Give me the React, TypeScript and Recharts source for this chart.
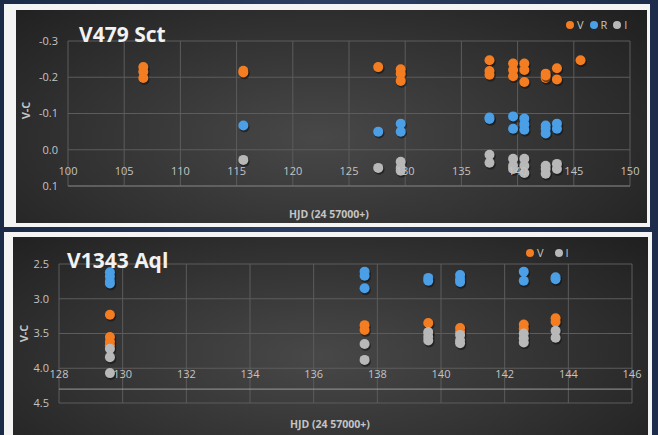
import React from 'react';
import { ScatterChart, Scatter, XAxis, YAxis, CartesianGrid, Legend, ReferenceLine } from 'recharts';

// V479 Sct
const sctDays = [100, 105, 110, 115, 120, 125, 130, 135, 140, 145, 150];
const sctTicks = [-0.3, -0.2, -0.1, 0.0, 0.1];
const sctVDay = [106.7, 106.7, 106.7, 115.6, 115.6, 127.6, 129.6, 129.6, 129.6, 137.5, 137.5, 137.5, 139.6, 139.6, 139.6, 140.6, 140.6, 140.6, 142.5, 142.5, 142.5, 143.5, 143.5, 145.6];
const sctVMag = [-0.228, -0.215, -0.198, -0.218, -0.213, -0.228, -0.222, -0.21, -0.19, -0.247, -0.217, -0.207, -0.238, -0.22, -0.203, -0.238, -0.22, -0.187, -0.21, -0.198, -0.205, -0.225, -0.194, -0.247];
const sctRDay = [115.6, 127.6, 129.6, 129.6, 137.5, 137.5, 139.6, 139.6, 140.6, 140.6, 140.6, 142.5, 142.5, 142.5, 143.5, 143.5];
const sctRMag = [-0.067, -0.05, -0.072, -0.05, -0.089, -0.085, -0.092, -0.058, -0.086, -0.07, -0.055, -0.067, -0.058, -0.045, -0.072, -0.058];
const sctIDay = [115.6, 127.6, 129.6, 129.6, 129.6, 137.5, 137.5, 139.6, 139.6, 139.6, 140.6, 140.6, 140.6, 142.5, 142.5, 142.5, 143.5, 143.5];
const sctIMag = [0.028, 0.05, 0.033, 0.05, 0.058, 0.014, 0.036, 0.025, 0.044, 0.053, 0.025, 0.044, 0.064, 0.044, 0.053, 0.066, 0.039, 0.053];

// V1343 Aql
const aqlDays = [128, 130, 132, 134, 136, 138, 140, 142, 144, 146];
const aqlTicks = [2.5, 3.0, 3.5, 4.0, 4.5];
const aqlAxisCross = 4.3;
const aqlVDay = [129.6, 129.6, 129.6, 129.6, 137.6, 137.6, 139.6, 139.6, 140.6, 140.6, 142.6, 142.6, 143.6, 143.6];
const aqlVMag = [3.23, 3.55, 3.62, 3.67, 3.38, 3.45, 3.35, 3.5, 3.42, 3.48, 3.37, 3.43, 3.28, 3.33];
const aqlBDay = [129.6, 129.6, 129.6, 129.6, 137.6, 137.6, 137.6, 139.6, 139.6, 140.6, 140.6, 140.6, 142.6, 142.6, 143.6, 143.6];
const aqlBMag = [2.62, 2.68, 2.75, 2.78, 2.61, 2.67, 2.85, 2.7, 2.74, 2.66, 2.72, 2.76, 2.61, 2.74, 2.69, 2.72];
const aqlIDay = [129.6, 129.6, 129.6, 137.6, 137.6, 139.6, 139.6, 139.6, 140.6, 140.6, 140.6, 142.6, 142.6, 142.6, 143.6, 143.6];
const aqlIMag = [3.72, 3.84, 4.07, 3.65, 3.88, 3.48, 3.55, 3.6, 3.52, 3.6, 3.64, 3.5, 3.57, 3.63, 3.46, 3.56];

const legendOrder = ['V', 'R', 'I'];

const ORANGE = '#f47d22';
const BLUE = '#4b9fe6';
const GRAY = '#b8b8b8';
const FONT = '"Open Sans", "DejaVu Sans", sans-serif';
const TEXT = '#c4c4c4';

const zip = (xs: number[], ys: number[]) => xs.map((x, i) => ({ x, y: ys[i] }));

const Dot = (props: any) => {
  const { cx, cy, fill } = props;
  if (cx == null || cy == null) return null;
  return (
    <g>
      <circle cx={cx + 1} cy={cy + 1.5} r={5.3} fill="#111" opacity={0.55} />
      <circle cx={cx} cy={cy} r={5} fill={fill} />
    </g>
  );
};

const makeLegend = (gap: number) => (props: any) => {
  const items = (props.payload || [])
    .filter((p: any) => p.type !== 'none')
    .sort((a: any, b: any) => legendOrder.indexOf(a.value) - legendOrder.indexOf(b.value));
  return (
    <div style={{ display: 'flex', alignItems: 'center', fontFamily: FONT, fontSize: 11, color: TEXT, gap }}>
      {items.map((p: any) => (
        <span key={p.value} style={{ display: 'flex', alignItems: 'center' }}>
          <span style={{ width: 8, height: 8, borderRadius: 4, background: p.color, marginRight: 3 }} />
          {p.value}
        </span>
      ))}
    </div>
  );
};

const xTick = (lift: number) => (props: any) => {
  const { x, y, payload } = props;
  return (
    <text x={x} y={y - lift} textAnchor="middle" dominantBaseline="central" fill={TEXT} fontSize={11} fontFamily={FONT}>
      {payload.value}
    </text>
  );
};

const panelBg = 'radial-gradient(ellipse 70% 90% at 48% 60%, #484848 0%, #323232 55%, #1f1f1f 100%)';

const axisTitle: React.CSSProperties = {
  position: 'absolute',
  fontFamily: FONT,
  fontWeight: 700,
  fontSize: 10.5,
  color: TEXT,
  whiteSpace: 'nowrap',
};

const chartTitle: React.CSSProperties = {
  position: 'absolute',
  fontFamily: FONT,
  fontWeight: 700,
  fontSize: 21,
  color: '#f2f2f2',
  lineHeight: '22px',
  whiteSpace: 'nowrap',
};

export default function App() {
  return (
    <div style={{ position: 'fixed', left: 0, top: 0, width: 658, height: 435, overflow: 'hidden', background: 'linear-gradient(90deg, #1b2a47, #2c3f63 50%, #1d2c4a)' }}>
      {/* V479 Sct */}
      <div style={{ position: 'absolute', left: 4, top: 4, width: 646, height: 223, background: '#f4f4f4' }} />
      <div style={{ position: 'absolute', left: 16, top: 10, width: 631, height: 213, background: panelBg }}>
        <ScatterChart width={631} height={213} margin={{ top: 31, right: 17, bottom: 17, left: 12 }}>
          <CartesianGrid stroke="#5c5c5c" strokeWidth={1} />
          <XAxis type="number" dataKey="x" domain={[100, 150]} ticks={sctDays} height={20} tickSize={0} tickMargin={0} axisLine={false} tickLine={false} tick={xTick(16)} />
          <YAxis type="number" dataKey="y" domain={[-0.3, 0.1]} ticks={sctTicks} reversed width={40} tickSize={0} tickMargin={10} axisLine={false} tickLine={false} tick={{ fill: TEXT, fontSize: 11, fontFamily: FONT }} tickFormatter={(v: number) => v.toFixed(1)} />
          <ReferenceLine y={0.1} stroke="#777" />
          <Legend align="center" verticalAlign="middle" layout="horizontal" wrapperStyle={{ left: 550, top: 7, width: 80 }} content={makeLegend(6)} />
          <Scatter name="V" data={zip(sctVDay, sctVMag)} fill={ORANGE} shape={Dot} isAnimationActive={false} />
          <Scatter name="R" data={zip(sctRDay, sctRMag)} fill={BLUE} shape={Dot} isAnimationActive={false} />
          <Scatter name="I" data={zip(sctIDay, sctIMag)} fill={GRAY} shape={Dot} isAnimationActive={false} />
        </ScatterChart>
        <div style={{ ...chartTitle, left: 63, top: 13 }}>V479 Sct</div>
        <div style={{ ...axisTitle, left: 273, top: 197 }}>HJD (24 57000+)</div>
        <div style={{ ...axisTitle, fontSize: 11, left: 1, top: 93, transform: 'rotate(-90deg)', transformOrigin: 'center' }}>V-C</div>
      </div>

      {/* V1343 Aql */}
      <div style={{ position: 'absolute', left: 4, top: 232, width: 648, height: 210, background: '#f4f4f4' }} />
      <div style={{ position: 'absolute', left: 13, top: 237, width: 635, height: 198, background: panelBg }}>
        <ScatterChart width={635} height={198} margin={{ top: 27, right: 16, bottom: 12, left: 6 }}>
          <CartesianGrid stroke="#5c5c5c" strokeWidth={1} />
          <XAxis type="number" dataKey="x" domain={[128, 146]} ticks={aqlDays} height={20} tickSize={0} tickMargin={0} axisLine={false} tickLine={false} tick={xTick(30)} />
          <YAxis type="number" dataKey="y" domain={[2.5, 4.5]} ticks={aqlTicks} reversed width={40} tickSize={0} tickMargin={10} axisLine={false} tickLine={false} tick={{ fill: TEXT, fontSize: 11, fontFamily: FONT }} tickFormatter={(v: number) => v.toFixed(1)} />
          <ReferenceLine y={aqlAxisCross} stroke="#9a9a9a" />
          <Legend align="center" verticalAlign="middle" layout="horizontal" wrapperStyle={{ left: 513, top: 8, width: 60 }} content={makeLegend(11)} />
          <Scatter name="V" data={zip(aqlVDay, aqlVMag)} fill={ORANGE} shape={Dot} isAnimationActive={false} />
          <Scatter name="R" legendType="none" data={zip(aqlBDay, aqlBMag)} fill={BLUE} shape={Dot} isAnimationActive={false} />
          <Scatter name="I" data={zip(aqlIDay, aqlIMag)} fill={GRAY} shape={Dot} isAnimationActive={false} />
        </ScatterChart>
        <div style={{ ...chartTitle, left: 54, top: 12 }}>V1343 Aql</div>
        <div style={{ ...axisTitle, left: 277, top: 180 }}>HJD (24 57000+)</div>
        <div style={{ ...axisTitle, fontSize: 11, left: 2, top: 89, transform: 'rotate(-90deg)', transformOrigin: 'center' }}>V-C</div>
      </div>
    </div>
  );
}
